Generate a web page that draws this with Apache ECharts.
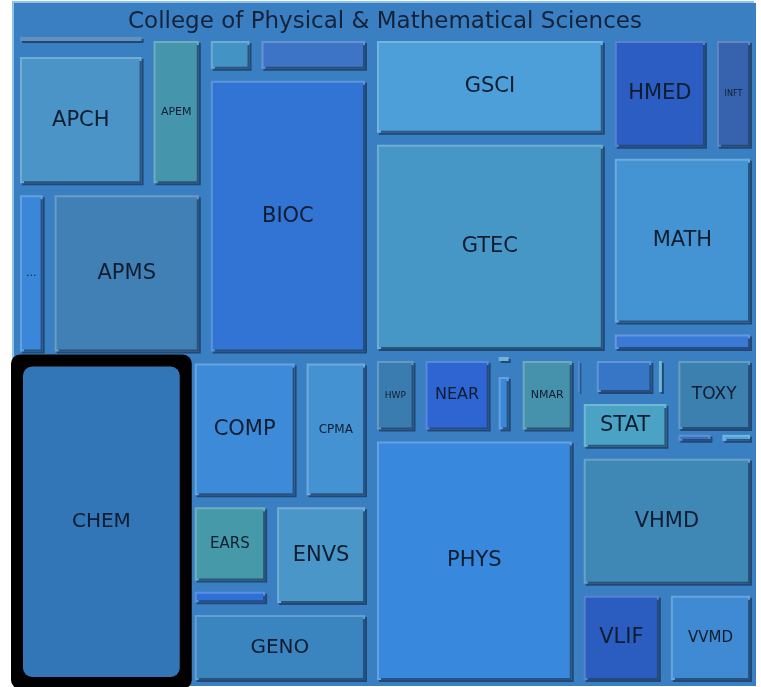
<!DOCTYPE html>
<html>
<head>
<meta charset="utf-8">
<script src="https://cdn.jsdelivr.net/npm/echarts@6/dist/echarts.min.js"></script>
<style>
  html, body { margin: 0; padding: 0; background: #fff; }
  #chartBox { width: 761px; height: 687px; }
</style>
</head>
<body>
<div id="chartBox"></div>
<script>
// college name shown in the header bar
const college = 'College of Physical & Mathematical Sciences'

// unit codes ('' = box without a label)
const units = [
  '', 'APCH', 'APEM', '...', 'APMS', '', '', 'BIOC',
  'CHEM', 'COMP', 'CPMA', 'EARS', '', 'ENVS', 'GENO',
  'GSCI', 'GTEC', 'HMED', 'INFT', 'MATH', '',
  'HWP', 'NEAR', '', '', 'NMAR', 'PHYS',
  '', '', '', 'STAT', 'TOXY', '', '', 'VHMD', 'VLIF', 'VVMD'
]

// size of each unit
const sizes = [
  2128, 18487, 8835, 5830, 26280, 2020, 4600, 47000,
  57400, 16072, 10117, 7012, 1856, 10750, 14052,
  24700, 51420, 12036, 5310, 25872, 3896,
  3904, 6038, 352, 1419, 4910, 51830,
  559, 2860, 645, 5198, 6680, 792, 711, 24386, 8396, 8782
]

// how the units are grouped (indexes into units / sizes)
const nesting = [
  [
    [[[[0, 1], 2], [3, 4]], [[5, 6], 7]],
    [8, [[9, 10], [[[11, 12], 13], 14]]]
  ],
  [
    [[15, 16], [[17, 18], [19, 20]]],
    [
      [[[21, 22], [[23, 24], 25]], 26],
      [[[[27, 28, 29], 30], [31, [32, 33]]], [34, [35, 36]]]
    ]
  ]
]

// the selected unit, drawn with a black frame
const selected = 'CHEM'

// fill colour of each box
const colors = [
  '#3c6fa8', '#4a94c8', '#4596ad', '#3a86d8', '#4180b5', '#4493c5', '#3d74c6', '#3174d3',
  '#3276b7', '#3d8ad9', '#4592d2', '#4599a9', '#2f6fd8', '#4b96c9', '#3a84c0',
  '#4c9fd8', '#4797c6', '#2b5dc3', '#3763ae', '#4493d3', '#3a7ad6',
  '#3a7cb0', '#2e65d3', '#4a9ed0', '#3b87d8', '#4691ab', '#3888dd',
  '#3670c8', '#3776c6', '#4aa0c8', '#4aa3c5', '#3c80b0', '#3270c3', '#4ba2dc',
  '#3f88b6', '#2a5dbf', '#3f8ad3'
]

// label size per box
const fontSizes = {
  APCH: 21, APEM: 11, '...': 11, APMS: 21, BIOC: 21, CHEM: 20, COMP: 21, CPMA: 12,
  EARS: 15, ENVS: 21, GENO: 20, GSCI: 21, GTEC: 21, HMED: 21, INFT: 8, MATH: 21,
  HWP: 9, NEAR: 16, NMAR: 11, STAT: 21, TOXY: 17, PHYS: 21, VHMD: 21, VLIF: 21, VVMD: 15
}

function lighten(hex, k) {
  let n = parseInt(hex.slice(1), 16)
  let c = [n >> 16, (n >> 8) & 255, n & 255].map(v => Math.round(v + (255 - v) * k))
  return 'rgb(' + c.join(',') + ')'
}

function build(n) {
  if (typeof n === 'number') {
    let name = units[n]
    let leaf = {
      name: name,
      value: sizes[n],
      itemStyle: {
        color: colors[n],
        borderColor: lighten(colors[n], 0.22),
        borderWidth: 2,
        shadowColor: 'rgba(22,55,95,0.75)',
        shadowOffsetX: 2,
        shadowOffsetY: 2,
        shadowBlur: 0
      },
      label: {
        show: name !== '',
        fontSize: fontSizes[name] || 12
      }
    }
    if (name === selected) {
      leaf.itemStyle.borderColor = '#000'
      leaf.itemStyle.borderWidth = 12
      leaf.itemStyle.borderRadius = 9
      leaf.itemStyle.shadowColor = 'transparent'
      // wrapper lets the frame spill over the gap around the box
      return {
        name: ' ',
        children: [leaf],
        itemStyle: { color: 'transparent', borderColor: 'transparent', borderWidth: -9, gapWidth: 0 },
        upperLabel: { show: true, height: -9, color: 'transparent' }
      }
    }
    return leaf
  }
  return {
    name: ' ',
    children: n.map(build),
    itemStyle: { color: 'transparent', borderColor: 'transparent', borderWidth: 0, gapWidth: 12 }
  }
}

let myChart = echarts.init(document.getElementById('chartBox'))
myChart.setOption({
  animation: false,
  series: [
    {
      type: 'treemap',
      left: 14,
      top: 3,
      width: 742,
      height: 683,
      roam: false,
      nodeClick: false,
      squareRatio: 1,
      sort: false,
      breadcrumb: { show: false },
      visibleMin: 1,
      itemStyle: {
        color: 'transparent',
        borderColor: 'transparent',
        borderWidth: 0,
        gapWidth: 12
      },
      label: {
        show: true,
        position: 'inside',
        color: '#101d30',
        fontFamily: 'DejaVu Sans',
        padding: 0,
        overflow: 'none'
      },
      upperLabel: { show: false },
      data: [
        {
          name: college,
          children: nesting.map(build),
          itemStyle: {
            color: '#3a7fc1',
            borderColor: '#3a7fc1',
            borderWidth: 6,
            gapWidth: 12,
            shadowColor: '#8cc2ee',
            shadowOffsetX: -2,
            shadowOffsetY: -2,
            shadowBlur: 0
          },
          upperLabel: {
            show: true,
            height: 38,
            position: 'inside',
            color: '#14223a',
            fontFamily: 'DejaVu Sans',
            fontSize: 23
          }
        }
      ]
    }
  ]
})
</script>
</body>
</html>
